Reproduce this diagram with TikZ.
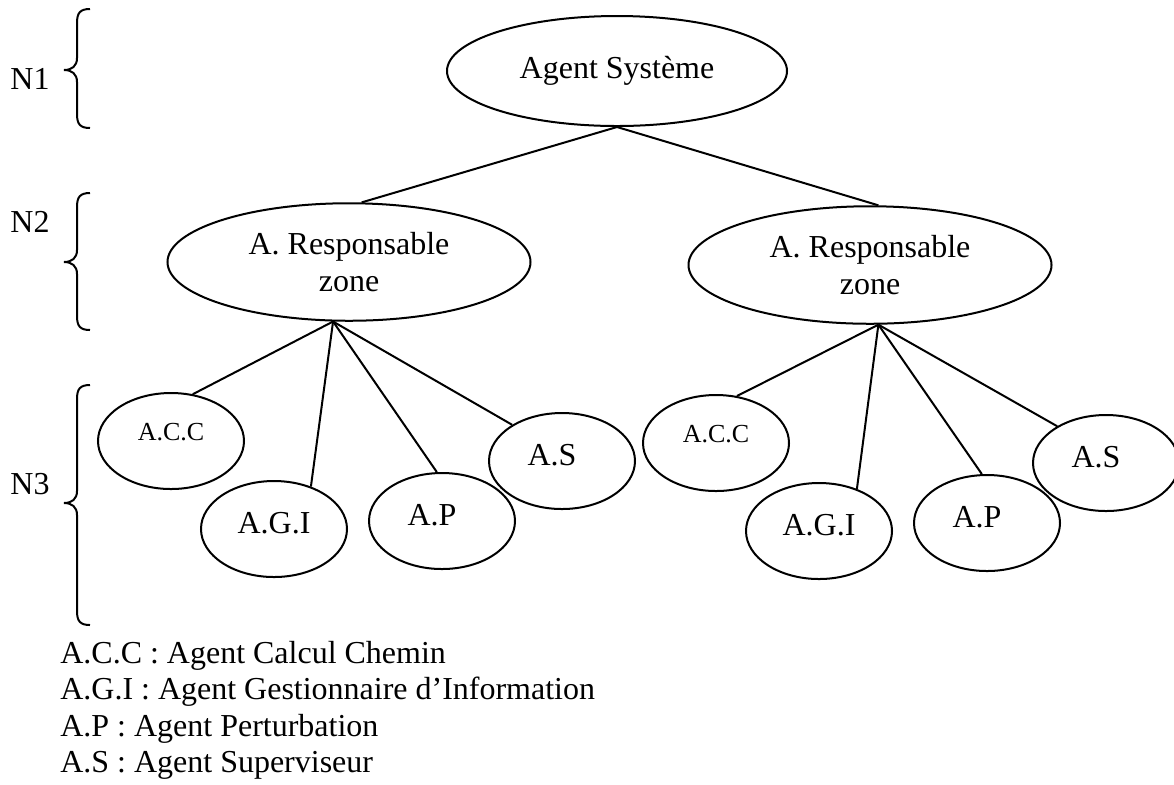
\documentclass[tikz,border=0pt]{standalone}
\usepackage{fontspec}
\setmainfont{Liberation Serif}
\usetikzlibrary{shapes.geometric}

\tikzset{
  every node/.style={inner sep=0pt},
  link/.style={line width=0.4mm},
  agent/.style={ellipse, draw, link, minimum width=68mm, minimum height=22mm},
  zone/.style={ellipse, draw, link, align=center, minimum width=72.6mm, minimum height=23.5mm},
  leaf/.style={ellipse, draw, link, minimum width=29.2mm, minimum height=19.2mm,
    text height=4.24mm, text depth=2.4mm},
  leafcc/.style={leaf, font=\fontsize{14.8}{17}\selectfont, text height=3.44mm, text depth=3.6mm},
  leafl/.style={leaf, execute at end node=\hspace*{4mm}}
}

\begin{document}
\begin{tikzpicture}[x=0.2mm,y=-0.2mm,font=\fontsize{18.2}{20.7}\selectfont]
  \useasboundingbox (0,0) rectangle (1174,784);

  % levels
  \foreach \i/\t/\m/\b/\ly in {1/9/70/128/79, 2/193/262/330/222, 3/385/503/625/484} {
    \node (n\i) at (30,\ly) {N\i};
    \draw[link] (90,\t) .. controls (80,\t) and (77,\t+4) .. (77,\t+14) -- (77,\m-12)
      .. controls (77,\m-4) and (72,\m) .. (64,\m) .. controls (72,\m) and (77,\m+4) .. (77,\m+12)
      -- (77,\b-14) .. controls (77,\b-4) and (80,\b) .. (90,\b);
  }

  \node[agent] (sys) at (617,71) {Agent Système};
  \node[zone] (zoneL) at (349,262) {A. Responsable\\zone};
  \node[zone] (zoneR) at (870,265) {A. Responsable\\zone};

  % left zone
  \node[leafcc] (accL) at (171,441) {A.C.C};
  \node[leaf] (agiL) at (274,529) {A.G.I};
  \node[leafl] (apL) at (442,521) {A.P};
  \node[leafl] (asL) at (562,461) {A.S};

  % right zone
  \node[leafcc] (accR) at (716,443) {A.C.C};
  \node[leaf] (agiR) at (819,531) {A.G.I};
  \node[leafl] (apR) at (987,523) {A.P};
  \node[leafl] (asR) at (1106,463) {A.S};

  \draw[link] (sys.south) -- (zoneL.78);
  \draw[link] (sys.south) -- (zoneR.82);

  \draw[link] (zoneL.-105) -- (accL.65);
  \draw[link] (zoneL.-105) -- (agiL.49);
  \draw[link] (zoneL.-105) -- (apL.96);
  \draw[link] (zoneL.-105) -- (asL.144);

  \draw[link] (zoneR.-82) -- (accR.66);
  \draw[link] (zoneR.-82) -- (agiR.48);
  \draw[link] (zoneR.-82) -- (apR.96);
  \draw[link] (zoneR.-82) -- (asR.143);

  \node[anchor=north west, align=left] (legend) at (60,641) {A.C.C : Agent Calcul Chemin\\
    A.G.I : Agent Gestionnaire d’Information\\
    A.P : Agent Perturbation\\
    A.S : Agent Superviseur};
\end{tikzpicture}
\end{document}
